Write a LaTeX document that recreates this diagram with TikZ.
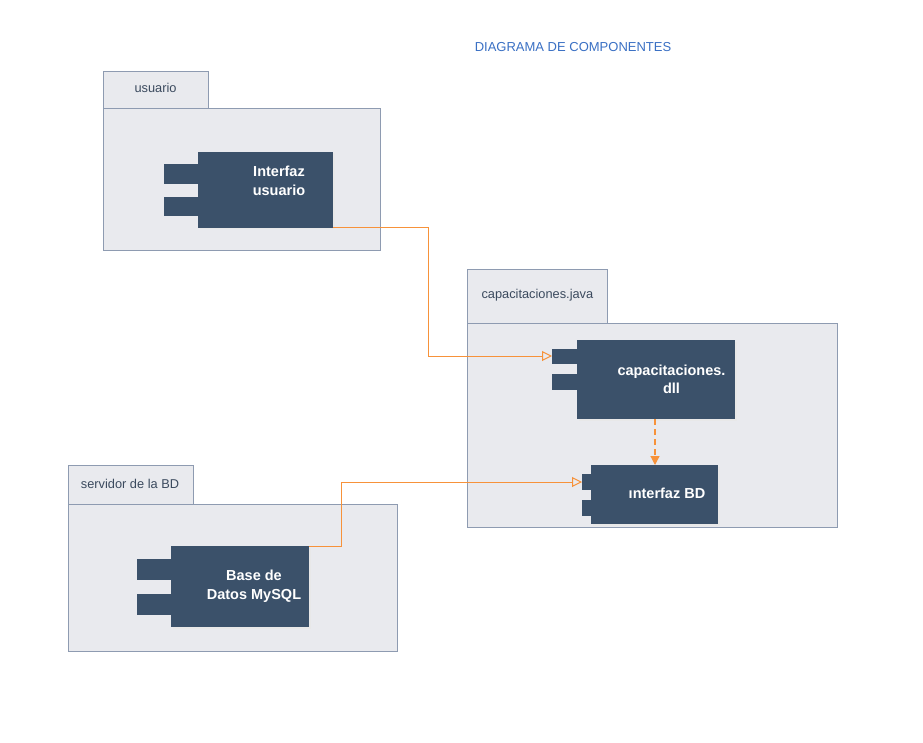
\documentclass[tikz,border=0pt]{standalone}
\usepackage{fontspec}
\setmainfont{Liberation Sans}
\usetikzlibrary{arrows.meta}
\definecolor{pkgfill}{HTML}{E9EAEE}
\definecolor{pkgline}{HTML}{8E9BB1}
\definecolor{pkgtext}{HTML}{3B4A5E}
\definecolor{compfill}{HTML}{3B516A}
\definecolor{wire}{HTML}{F7923A}
\definecolor{titleblue}{HTML}{3A70C4}
\tikzset{
  pkgbox/.style={draw=pkgline, fill=pkgfill, line width=0.9pt},
  pkglabel/.style={text=pkgtext, font=\fontsize{12.8}{15}\selectfont},
  compshadow/.style={fill=black!9},
  compbox/.style={fill=compfill},
  complabel/.style={text=white, font=\fontsize{14.5}{18.5}\selectfont\bfseries, align=center},
  wireline/.style={draw=wire, line width=1pt},
  realize/.style={wireline, -{Triangle[open, length=10pt, width=10pt]}},
  depend/.style={wireline, line width=1.2pt, dash pattern=on 6pt off 4pt, -{Triangle[length=9pt, width=9pt]}},
}
\begin{document}
\begin{tikzpicture}[x=1pt, y=-1pt]
\useasboundingbox (0,0) rectangle (923,743);
\fill[white] (0,0) rectangle (923,743);

% title
\node[text=titleblue, font=\fontsize{13}{15}\selectfont] (title) at (573,47) {DIAGRAMA DE COMPONENTES};

% package: usuario
\draw[pkgbox] (103,71) rectangle (208,108);
\draw[pkgbox] (103,108) rectangle (380,250);
\node[pkglabel] (pkgA) at (155.5,88) {usuario};

% package: capacitaciones.java
\draw[pkgbox] (467,269) rectangle (607,323);
\draw[pkgbox] (467,323) rectangle (837,527);
\node[pkglabel] (pkgB) at (537.4,295.5) {capacitaciones.java};

% package: servidor de la BD
\draw[pkgbox] (68,465) rectangle (193,504);
\draw[pkgbox] (68,504) rectangle (397,651);
\node[pkglabel] (pkgC) at (130,484) {servidor de la BD};

% component: Interfaz usuario
\fill[compshadow] (199.5,153.5) rectangle (334.5,229.5);
\fill[compbox] (198,152) rectangle (333,228);
\fill[compbox] (164,164) rectangle (198,184);
\fill[compbox] (164,197) rectangle (198,216);
\coordinate (ui) at (333,228);
\node[complabel] (uiText) at (279,181) {Interfaz\\usuario};

% component: capacitaciones.dll
\fill[compshadow] (578.5,341.5) rectangle (736.5,420.5);
\fill[compbox] (577,340) rectangle (735,419);
\fill[compbox] (552,349) rectangle (577,364);
\fill[compbox] (552,374) rectangle (577,390);
\coordinate (dllPort) at (552,356);
\coordinate (dllBottom) at (655,419);
\node[complabel] (dllText) at (671.5,379.5) {capacitaciones.\\dll};

% component: interfaz BD
\fill[compshadow] (592.5,466.5) rectangle (719.5,525.5);
\fill[compbox] (591,465) rectangle (718,524);
\fill[compbox] (582,474) rectangle (591,490);
\fill[compbox] (582,500) rectangle (591,516);
\coordinate (bdPort) at (582,482);
\coordinate (bdTop) at (655,465);
\node[complabel] (bdText) at (667,493) {ınterfaz BD};

% component: Base de Datos MySQL
\fill[compshadow] (172.5,547.5) rectangle (310.5,628.5);
\fill[compbox] (171,546) rectangle (309,627);
\fill[compbox] (137,559) rectangle (171,580);
\fill[compbox] (137,594) rectangle (171,615);
\coordinate (db) at (309,546);
\node[complabel] (dbText) at (254,586) {Base de\\Datos MySQL};

% connectors
\draw[realize] (ui) -| (428,356) -- (dllPort);
\draw[realize] (db) -| (341,482) -- (bdPort);
\draw[depend] (dllBottom) -- (bdTop);
\end{tikzpicture}
\end{document}
